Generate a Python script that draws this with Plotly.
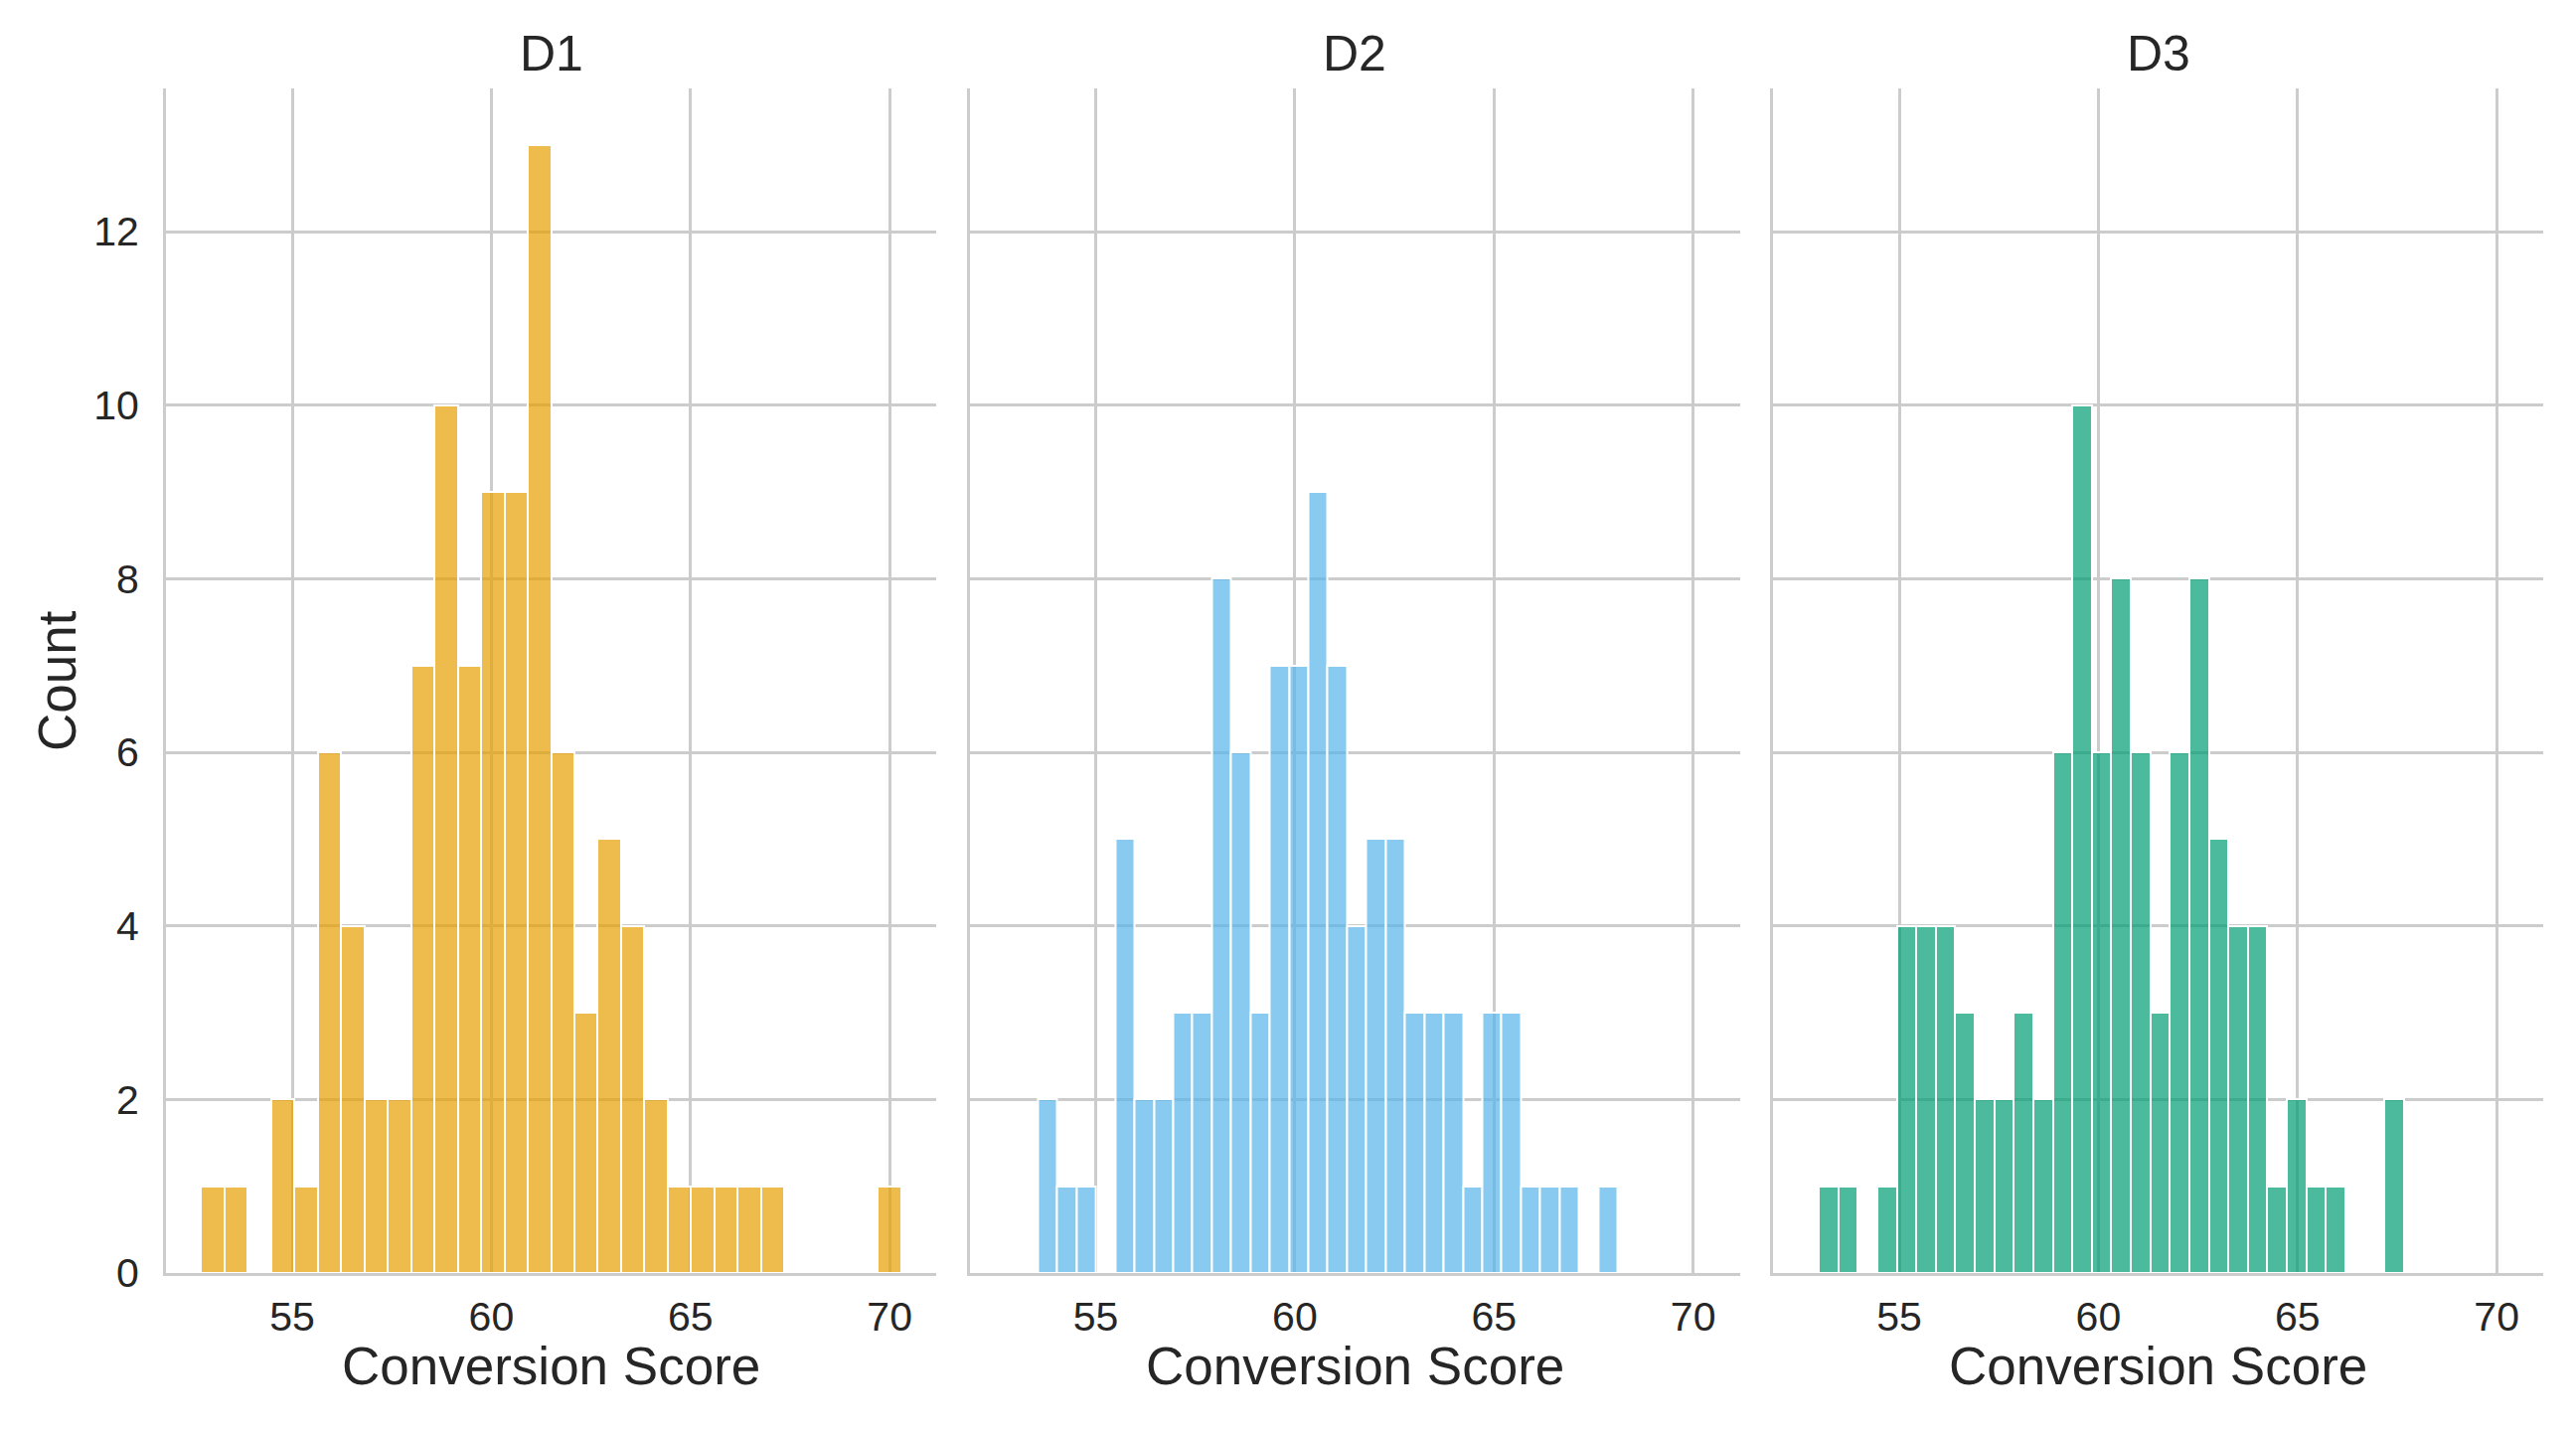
import plotly.graph_objects as go

# ---- data ----
panels = ["D1", "D2", "D3"]
colors = ["rgba(230,159,0,0.7)", "rgba(86,180,233,0.7)", "rgba(0,158,115,0.7)"]

d1_counts = [1, 1, 0, 2, 1, 6, 4, 2, 2, 7, 10, 7, 9, 9, 13, 6, 3, 5, 4, 2, 1, 1, 1, 1, 1, 0, 0, 0, 0, 1]
d2_counts = [2, 1, 1, 0, 5, 2, 2, 3, 3, 8, 6, 3, 7, 7, 9, 7, 4, 5, 5, 3, 3, 3, 1, 3, 3, 1, 1, 1, 0, 1]
d3_counts = [1, 1, 0, 1, 4, 4, 4, 3, 2, 2, 3, 2, 6, 10, 6, 8, 6, 3, 6, 8, 5, 4, 4, 1, 2, 1, 1, 0, 0, 2]
counts = [d1_counts, d2_counts, d3_counts]

# histogram ranges (min, max of each sample)
d1_range = (52.71, 70.29)
d2_range = (53.55, 68.10)
d3_range = (52.98, 67.67)
ranges = [d1_range, d2_range, d3_range]

x_ticks = [55, 60, 65, 70]
y_ticks = [0, 2, 4, 6, 8, 10, 12]
x_label = "Conversion Score"
y_label = "Count"

# ---- layout geometry (page has an 8px body margin) ----
W, H = 2576, 1424
ml, mt = 159, 81
pw = 2392
ph = 1192
mr = W - ml - pw
mb = H - mt - ph
panel_w = 775
gap = 33.5
domains = []
for i in range(3):
    a = i * (panel_w + gap)
    domains.append((a / pw, min(1.0, (a + panel_w) / pw)))

FONT = "Liberation Sans, Arial, sans-serif"
TXT = "#262626"
GRID = "#cccccc"

fig = go.Figure()

lo = min(r[0] for r in ranges)
hi = max(r[1] for r in ranges)
pad = 0.05 * (hi - lo)
xr = [lo - pad, hi + pad]
ymax = max(max(c) for c in counts) * 1.05

for i, (name, col, cnt, rg) in enumerate(zip(panels, colors, counts, ranges)):
    n = len(cnt)
    bw = (rg[1] - rg[0]) / n
    centers = [rg[0] + bw * (k + 0.5) for k in range(n)]
    ax = "" if i == 0 else str(i + 1)
    fig.add_trace(go.Bar(
        x=centers, y=cnt, width=[bw] * n,
        marker=dict(color=col, line=dict(color="white", width=2)),
        xaxis="x" + ax, yaxis="y" + ax, showlegend=False,
    ))
    common_x = dict(
        domain=list(domains[i]), range=xr, tickvals=x_ticks,
        showgrid=True, gridcolor=GRID, gridwidth=2.5,
        showline=True, linecolor=GRID, linewidth=3,
        zeroline=False, ticks="outside", ticklen=6, tickcolor="rgba(0,0,0,0)",
        tickfont=dict(size=41, color=TXT, family=FONT), anchor="y" + ax,
    )
    common_y = dict(
        domain=[0, 1], range=[0, ymax], tickvals=y_ticks,
        showgrid=True, gridcolor=GRID, gridwidth=2.5,
        showline=True, linecolor=GRID, linewidth=3,
        zeroline=False, ticks="outside", ticklen=16, tickcolor="rgba(0,0,0,0)",
        tickfont=dict(size=41, color=TXT, family=FONT), anchor="x" + ax,
        showticklabels=(i == 0),
    )
    fig.layout["xaxis" + ax] = common_x
    fig.layout["yaxis" + ax] = common_y

    cx = (domains[i][0] + domains[i][1]) / 2
    fig.add_annotation(text=name, x=cx, y=1 + 35 / ph, xref="paper", yref="paper",
                       showarrow=False, xanchor="center", yanchor="middle",
                       font=dict(size=50, color=TXT, family=FONT))
    fig.add_annotation(text=x_label, x=cx, y=-93 / ph, xref="paper", yref="paper",
                       showarrow=False, xanchor="center", yanchor="middle",
                       font=dict(size=53, color=TXT, family=FONT))

fig.add_annotation(text=y_label, x=-110 / pw, y=0.5, xref="paper", yref="paper",
                   showarrow=False, xanchor="center", yanchor="middle", textangle=-90,
                   font=dict(size=53, color=TXT, family=FONT))

fig.update_layout(
    width=W, height=H,
    margin=dict(l=ml, r=mr, t=mt, b=mb),
    paper_bgcolor="white", plot_bgcolor="white",
    bargap=0, barmode="overlay",
    font=dict(family=FONT, color=TXT),
)

fig.write_html("out.html")
